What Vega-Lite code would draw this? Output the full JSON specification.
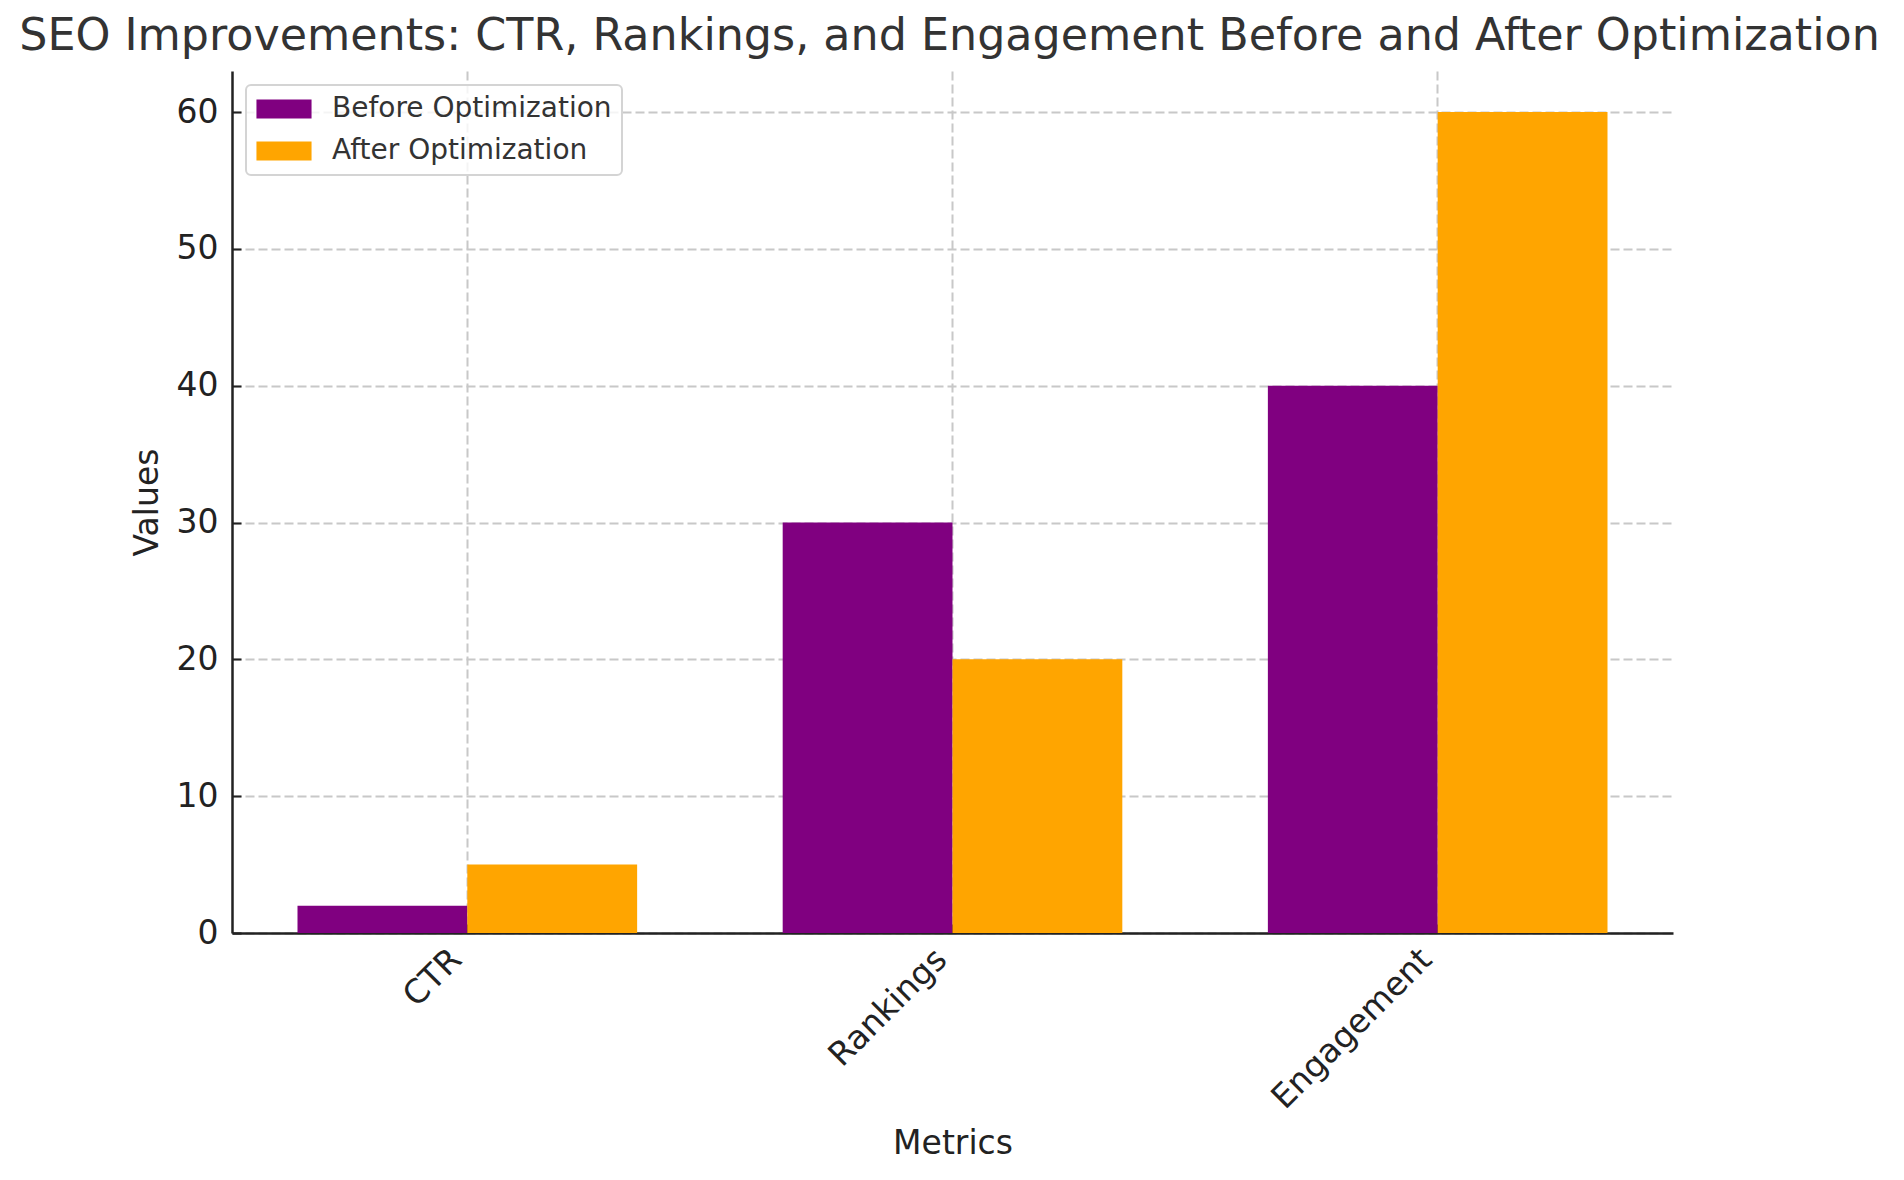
{
  "$schema": "https://vega.github.io/schema/vega-lite/v6.json",
  "width": 1441,
  "height": 862,
  "autosize": {"type": "none"},
  "padding": {"left": 232, "top": 71, "right": 231, "bottom": 247},
  "background": "white",
  "title": {
    "text": "SEO Improvements: CTR, Rankings, and Engagement Before and After Optimization",
    "fontSize": 44.4,
    "font": "DejaVu Sans",
    "fontWeight": "normal",
    "color": "#333333",
    "anchor": "middle",
    "baseline": "alphabetic",
    "offset": 18,
    "dy": 41,
    "dx": -3,
    "frame": "group"
  },
  "data": {
    "values": [
      {"Metric": "CTR", "Stage": "Before Optimization", "Value": 2},
      {"Metric": "CTR", "Stage": "After Optimization", "Value": 5},
      {"Metric": "Rankings", "Stage": "Before Optimization", "Value": 30},
      {"Metric": "Rankings", "Stage": "After Optimization", "Value": 20},
      {"Metric": "Engagement", "Stage": "Before Optimization", "Value": 40},
      {"Metric": "Engagement", "Stage": "After Optimization", "Value": 60}
    ]
  },
  "mark": {"type": "bar"},
  "encoding": {
    "x": {
      "field": "Metric",
      "type": "nominal",
      "sort": ["CTR", "Rankings", "Engagement"],
      "scale": {"paddingInner": 0.3, "paddingOuter": 0.135},
      "axis": {
        "title": "Metrics",
        "labelAngle": -45,
        "labelAlign": "right",
        "labelBaseline": "middle",
        "labelOffset": -11,
        "labelPadding": 30,
        "labelLimit": 0,
        "titleY": 220,
        "titleBaseline": "alphabetic",
        "grid": true,
        "bandPosition": 0.5
      }
    },
    "xOffset": {
      "field": "Stage",
      "type": "nominal",
      "sort": ["Before Optimization", "After Optimization"],
      "scale": {"paddingInner": 0, "paddingOuter": 0}
    },
    "y": {
      "field": "Value",
      "type": "quantitative",
      "scale": {"domain": [0, 63], "nice": false, "zero": true},
      "axis": {
        "title": "Values",
        "values": [0, 10, 20, 30, 40, 50, 60],
        "labelPadding": 23,
        "titleX": -75,
        "titleBaseline": "alphabetic",
        "grid": true
      }
    },
    "color": {
      "field": "Stage",
      "type": "nominal",
      "scale": {
        "domain": ["Before Optimization", "After Optimization"],
        "range": ["#800080", "#FFA500"]
      },
      "legend": {
        "title": null,
        "orient": "none",
        "legendX": 14,
        "legendY": 14,
        "symbolType": "M-2.9,-1H2.9V1H-2.9Z",
        "symbolSize": 361,
        "symbolStrokeWidth": 0,
        "symbolOffset": 14,
        "symbolOpacity": 1,
        "labelOffset": 34,
        "labelFontSize": 28,
        "labelFont": "DejaVu Sans",
        "labelColor": "#333333",
        "labelLimit": 0,
        "rowPadding": 14,
        "padding": 10,
        "strokeColor": "#d4d4d4",
        "cornerRadius": 5,
        "fillColor": "rgba(255,255,255,0.8)"
      }
    }
  },
  "config": {
    "view": {"stroke": null},
    "font": "DejaVu Sans",
    "legend": {"strokeWidth": 2},
    "axis": {
      "labelFont": "DejaVu Sans",
      "labelFontSize": 33,
      "labelColor": "#222222",
      "titleFont": "DejaVu Sans",
      "titleFontSize": 33,
      "titleFontWeight": "normal",
      "titleColor": "#222222",
      "domainColor": "#222222",
      "domainWidth": 2.5,
      "tickColor": "#222222",
      "tickWidth": 2,
      "tickSize": -9,
      "gridColor": "#c8c8c8",
      "gridDash": [9, 4],
      "gridWidth": 2,
      "gridOpacity": 1
    }
  }
}
